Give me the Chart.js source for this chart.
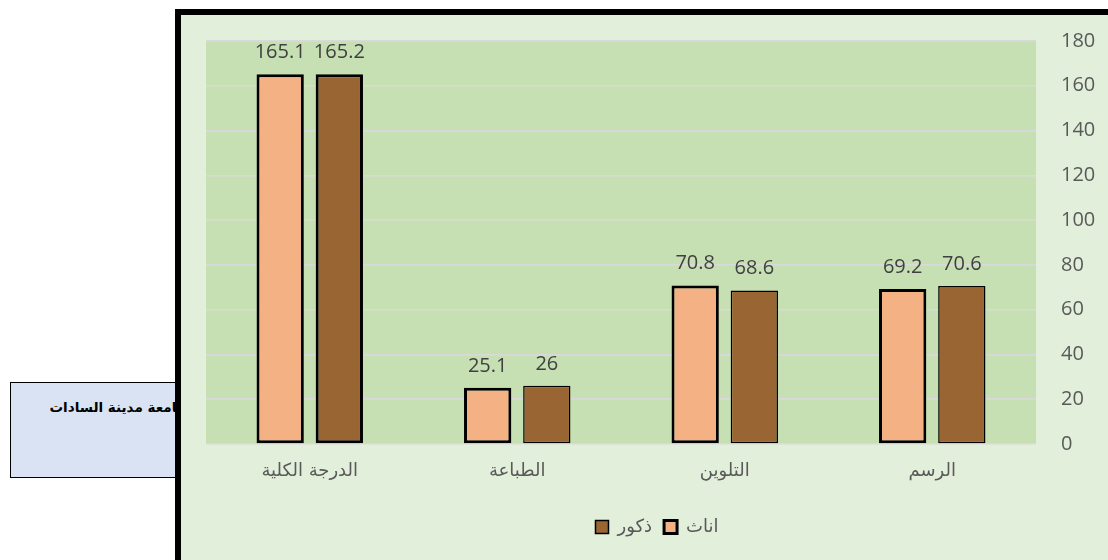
<!DOCTYPE html>
<html>
<head>
<meta charset="utf-8">
<script src="https://cdn.jsdelivr.net/npm/chart.js@4.4.0/dist/chart.umd.min.js"></script>
<style>
  html, body { margin: 0; padding: 0; background: #fff; width: 1108px; height: 560px; overflow: hidden; }
  .note {
    position: absolute; left: 10px; top: 382px; width: 216px; height: 96px;
    background: #DAE3F3; border: 1.5px solid #000; box-sizing: border-box;
    font: bold 13.5px "DejaVu Sans", sans-serif; text-align: center; direction: rtl;
    padding-top: 16px;
  }
  .frame {
    position: absolute; left: 175px; top: 9px; width: 1000px; height: 600px;
    border: 6px solid #000; background: #E2EFDA;
  }
  #chart { position: absolute; left: 0; top: 0; }
</style>
</head>
<body>
<div class="note">جامعة مدينة السادات</div>
<div class="frame">
  <canvas id="chart" width="927" height="545"></canvas>
</div>
<script>
const categories = ['الرسم', 'التلوين', 'الطباعة', 'الدرجة الكلية'];
const females = [69.2, 70.8, 25.1, 165.1];
const males = [70.6, 68.6, 26, 165.2];
const yTicks = [0, 20, 40, 60, 80, 100, 120, 140, 160, 180];

const plotBg = {
  id: 'plotBg',
  beforeDraw(chart) {
    const a = chart.chartArea, ctx = chart.ctx;
    ctx.save();
    ctx.fillStyle = '#C6E0B4';
    ctx.fillRect(a.left, a.top, a.right - a.left, a.bottom - a.top);
    ctx.restore();
  }
};

const valueLabels = {
  id: 'valueLabels',
  afterDatasetsDraw(chart) {
    const ctx = chart.ctx;
    ctx.save();
    ctx.font = '20px "Open Sans", sans-serif';
    ctx.fillStyle = '#404040';
    ctx.textAlign = 'center';
    ctx.textBaseline = 'alphabetic';
    chart.data.datasets.forEach((ds, i) => {
      chart.getDatasetMeta(i).data.forEach((bar, j) => {
        ctx.fillText(String(ds.data[j]), bar.x, bar.y - 16);
      });
    });
    ctx.restore();
  }
};

new Chart(document.getElementById('chart'), {
  type: 'bar',
  data: {
    labels: categories,
    datasets: [
      {
        label: 'اناث',
        data: females,
        backgroundColor: '#F4B183',
        borderColor: '#000',
        borderWidth: 3,
        borderSkipped: false
      },
      {
        label: 'ذكور',
        data: males,
        backgroundColor: '#996633',
        borderColor: '#000',
        borderWidth: (c) => c.dataIndex === 3 ? 3 : 1.5,
        borderSkipped: false
      }
    ]
  },
  options: {
    responsive: false,
    animation: false,
    categoryPercentage: 0.57,
    barPercentage: 0.8,
    layout: { padding: { left: 25, top: 26, right: 0, bottom: 14 } },
    plugins: {
      legend: {
        position: 'bottom',
        reverse: true,
        labels: {
          color: '#595959',
          font: { size: 18, family: '"DejaVu Sans", sans-serif' },
          boxWidth: 13,
          boxHeight: 13,
          padding: 12
        }
      },
      tooltip: { enabled: false }
    },
    scales: {
      x: {
        reverse: true,
        grid: { display: false },
        border: { display: false },
        ticks: {
          color: '#595959',
          font: { size: 18, family: '"DejaVu Sans", sans-serif' },
          padding: 9
        },
        afterFit(s) { s.height = 62; }
      },
      y: {
        position: 'right',
        min: 0,
        max: 180,
        afterBuildTicks(s) { s.ticks = yTicks.map(v => ({ value: v })); },
        grid: { color: '#D9D9D9', lineWidth: 1.5, drawTicks: false },
        border: { display: false },
        ticks: {
          color: '#595959',
          font: { size: 20, family: '"Open Sans", sans-serif' },
          padding: 25
        },
        afterFit(s) { s.width = 72; s.paddingTop = 0; s.paddingBottom = 0; }
      }
    }
  },
  plugins: [plotBg, valueLabels]
});
</script>
</body>
</html>
